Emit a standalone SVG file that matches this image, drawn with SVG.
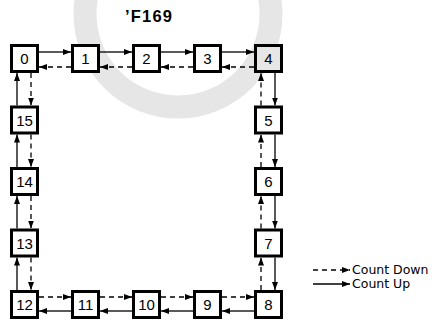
<svg xmlns="http://www.w3.org/2000/svg" width="437" height="322" viewBox="0 0 437 322">
<defs>
<style>
.box{fill:#fff;stroke:#000;stroke-width:3}
.lbl{font-family:"Liberation Sans",Arial,sans-serif;font-size:15px;text-anchor:middle;fill:#000}
.up{stroke:#000;stroke-width:1.3;fill:none;marker-end:url(#ah)}
.dn{stroke:#000;stroke-width:1.3;fill:none;stroke-dasharray:5,4;marker-end:url(#ah)}
.leg{font-family:"DejaVu Sans",Verdana,sans-serif;font-size:12.5px;fill:#000}
</style>
<marker id="ah" markerUnits="userSpaceOnUse" markerWidth="9" markerHeight="7" refX="8" refY="3" orient="auto">
<path d="M0,0 L8,3 L0,6 z" fill="#000"/>
</marker>
</defs>
<rect width="437" height="322" fill="#fff"/>
<circle cx="178" cy="14" r="93" fill="none" stroke="#e6e6e6" stroke-width="23"/>
<text x="148.5" y="22" font-family="Liberation Sans,Arial,sans-serif" font-weight="bold" font-size="16.5" text-anchor="middle" textLength="47">’F169</text>

<g id="connectors">
<line class="up" x1="39" y1="52" x2="71" y2="52"/>
<line class="up" x1="100" y1="52" x2="132" y2="52"/>
<line class="up" x1="161" y1="52" x2="193" y2="52"/>
<line class="up" x1="222" y1="52" x2="254" y2="52"/>
<line class="dn" x1="254" y1="67" x2="222" y2="67"/>
<line class="dn" x1="193" y1="67" x2="161" y2="67"/>
<line class="dn" x1="132" y1="67" x2="100" y2="67"/>
<line class="dn" x1="71" y1="67" x2="39" y2="67"/>
<line class="up" x1="275" y1="73" x2="275" y2="105.5"/>
<line class="up" x1="275" y1="134.5" x2="275" y2="167"/>
<line class="up" x1="275" y1="196" x2="275" y2="228.5"/>
<line class="up" x1="275" y1="257.5" x2="275" y2="290"/>
<line class="dn" x1="261" y1="290" x2="261" y2="257.5"/>
<line class="dn" x1="261" y1="228.5" x2="261" y2="196"/>
<line class="dn" x1="261" y1="167" x2="261" y2="134.5"/>
<line class="dn" x1="261" y1="105.5" x2="261" y2="73"/>
<line class="up" x1="254" y1="311" x2="222" y2="311"/>
<line class="up" x1="193" y1="311" x2="161" y2="311"/>
<line class="up" x1="132" y1="311" x2="100" y2="311"/>
<line class="up" x1="71" y1="311" x2="39" y2="311"/>
<line class="dn" x1="39" y1="297" x2="71" y2="297"/>
<line class="dn" x1="100" y1="297" x2="132" y2="297"/>
<line class="dn" x1="161" y1="297" x2="193" y2="297"/>
<line class="dn" x1="222" y1="297" x2="254" y2="297"/>
<line class="up" x1="17" y1="290" x2="17" y2="257.5"/>
<line class="up" x1="17" y1="228.5" x2="17" y2="196"/>
<line class="up" x1="17" y1="167" x2="17" y2="134.5"/>
<line class="up" x1="17" y1="105.5" x2="17" y2="73"/>
<line class="dn" x1="31" y1="73" x2="31" y2="105.5"/>
<line class="dn" x1="31" y1="134.5" x2="31" y2="167"/>
<line class="dn" x1="31" y1="196" x2="31" y2="228.5"/>
<line class="dn" x1="31" y1="257.5" x2="31" y2="290"/>
<line class="dn" x1="313" y1="270" x2="350" y2="270"/>
<line class="up" x1="313" y1="284" x2="350" y2="284"/>
</g>

<g id="n0"><rect class="box" x="11.5" y="45.5" width="26" height="26"/><text class="lbl" x="24.5" y="64">0</text></g>
<g id="n1"><rect class="box" x="72.5" y="45.5" width="26" height="26"/><text class="lbl" x="85.5" y="64">1</text></g>
<g id="n2"><rect class="box" x="133.5" y="45.5" width="26" height="26"/><text class="lbl" x="146.5" y="64">2</text></g>
<g id="n3"><rect class="box" x="194.5" y="45.5" width="26" height="26"/><text class="lbl" x="207.5" y="64">3</text></g>
<g id="n4"><rect class="box" style="fill:#e6e6e6" x="255.5" y="45.5" width="26" height="26"/><text class="lbl" x="268.5" y="64">4</text></g>
<g id="n5"><rect class="box" x="255.5" y="107" width="26" height="26"/><text class="lbl" x="268.5" y="125.5">5</text></g>
<g id="n6"><rect class="box" x="255.5" y="168.5" width="26" height="26"/><text class="lbl" x="268.5" y="187">6</text></g>
<g id="n7"><rect class="box" x="255.5" y="230" width="26" height="26"/><text class="lbl" x="268.5" y="248.5">7</text></g>
<g id="n8"><rect class="box" x="255.5" y="291.5" width="26" height="26"/><text class="lbl" x="268.5" y="310">8</text></g>
<g id="n9"><rect class="box" x="194.5" y="291.5" width="26" height="26"/><text class="lbl" x="207.5" y="310">9</text></g>
<g id="n10"><rect class="box" x="133.5" y="291.5" width="26" height="26"/><text class="lbl" x="146.5" y="310">10</text></g>
<g id="n11"><rect class="box" x="72.5" y="291.5" width="26" height="26"/><text class="lbl" x="85.5" y="310">11</text></g>
<g id="n12"><rect class="box" x="11.5" y="291.5" width="26" height="26"/><text class="lbl" x="24.5" y="310">12</text></g>
<g id="n13"><rect class="box" x="11.5" y="230" width="26" height="26"/><text class="lbl" x="24.5" y="248.5">13</text></g>
<g id="n14"><rect class="box" x="11.5" y="168.5" width="26" height="26"/><text class="lbl" x="24.5" y="187">14</text></g>
<g id="n15"><rect class="box" x="11.5" y="107" width="26" height="26"/><text class="lbl" x="24.5" y="125.5">15</text></g>

<g id="legend">
<text class="leg" x="352" y="274">Count Down</text>
<text class="leg" x="352" y="288">Count Up</text>
</g>
</svg>
